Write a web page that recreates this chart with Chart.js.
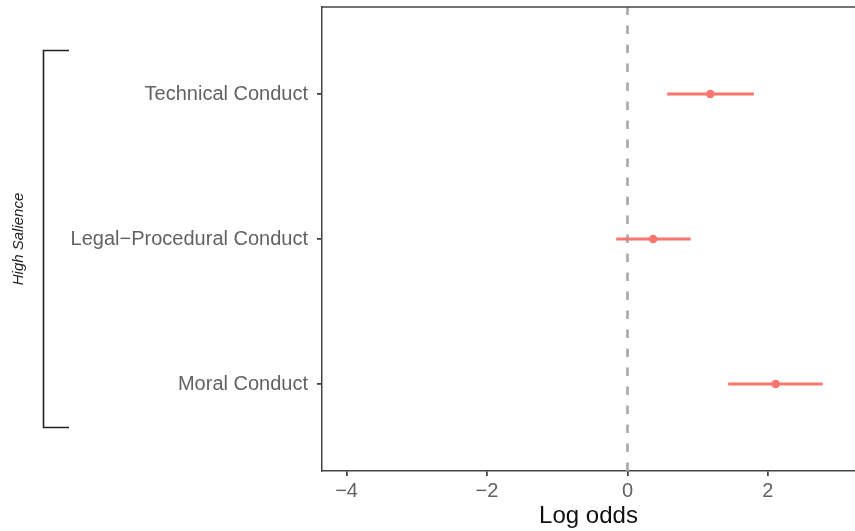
<!DOCTYPE html>
<html>
<head>
<meta charset="utf-8">
<script src="https://cdn.jsdelivr.net/npm/chart.js@4/dist/chart.umd.min.js"></script>
<style>
  html, body { margin: 0; padding: 0; background: #fff; }
  #wrap { width: 855px; height: 531px; position: relative; }
</style>
</head>
<body>
<div id="wrap"><canvas id="chart"></canvas></div>
<script>
// Categories, top to bottom
const categories = ["Technical Conduct", "Legal\u2212Procedural Conduct", "Moral Conduct"];
const estimates = [1.18, 0.365, 2.11];
const lower = [0.565, -0.16, 1.434];
const upper = [1.80, 0.90, 2.78];
const xTicks = [-4, -2, 0, 2];
const groupLabel = "High Salience";

const POINT_COLOR = "#F8766D";
const AXIS_COLOR = "#444444";
const TICK_TEXT = "#626262";
const FONT = "'Liberation Sans', Arial, Helvetica, sans-serif";

// category index -> y position (top category highest)
const yPos = i => categories.length - i;

const datasets = [];

// confidence intervals
categories.forEach((c, i) => {
  datasets.push({
    type: 'line',
    data: [{ x: lower[i], y: yPos(i) }, { x: upper[i], y: yPos(i) }],
    borderColor: POINT_COLOR,
    borderWidth: 2.8,
    pointRadius: 0,
    borderCapStyle: 'butt'
  });
});

// zero reference line
datasets.push({
  type: 'line',
  data: [{ x: 0, y: 0.4 }, { x: 0, y: 3.6 }],
  borderColor: "#A8A8A8",
  borderWidth: 2.6,
  borderDash: [8.5, 10.5],
  borderCapStyle: 'butt',
  pointRadius: 0
});

// point estimates
datasets.push({
  type: 'scatter',
  data: estimates.map((v, i) => ({ x: v, y: yPos(i) })),
  backgroundColor: POINT_COLOR,
  borderColor: POINT_COLOR,
  borderWidth: 0,
  pointRadius: 4.3
});

// bracket + group label, plus top panel border
const decorPlugin = {
  id: 'decor',
  afterDraw(chart) {
    const ctx = chart.ctx;
    const ys = chart.scales.y;
    const area = chart.chartArea;
    ctx.save();
    // top border
    ctx.strokeStyle = AXIS_COLOR;
    ctx.lineWidth = 1.5;
    ctx.beginPath();
    ctx.moveTo(area.left - 0.75, area.top);
    ctx.lineTo(area.right, area.top);
    ctx.stroke();
    // bracket
    const yTop = ys.getPixelForValue(3.3);
    const yBot = ys.getPixelForValue(0.7);
    ctx.strokeStyle = "#222";
    ctx.lineWidth = 1.6;
    ctx.beginPath();
    ctx.moveTo(69, yTop);
    ctx.lineTo(43.5, yTop);
    ctx.lineTo(43.5, yBot);
    ctx.lineTo(69, yBot);
    ctx.stroke();
    // label
    ctx.translate(19, (yTop + yBot) / 2);
    ctx.rotate(-Math.PI / 2);
    ctx.fillStyle = "#222";
    ctx.font = "italic 15px " + FONT;
    ctx.textAlign = 'center';
    ctx.textBaseline = 'middle';
    ctx.fillText(groupLabel, 0, 0);
    ctx.restore();
  }
};

new Chart(document.getElementById("chart"), {
  type: 'scatter',
  data: { datasets },
  options: {
    responsive: true,
    maintainAspectRatio: false,
    animation: false,
    layout: { autoPadding: false, padding: { top: 7, left: 0, right: 0, bottom: 0 } },
    plugins: { legend: { display: false }, tooltip: { enabled: false } },
    scales: {
      x: {
        type: 'linear',
        min: -4.35,
        max: 3.24,
        afterBuildTicks: s => { s.ticks = xTicks.map(v => ({ value: v })); },
        afterFit: s => { s.height = 60; s.paddingLeft = 0; s.paddingRight = 0; },
        grid: { drawOnChartArea: false, drawTicks: true, tickLength: 5, color: AXIS_COLOR, lineWidth: 1.8 },
        border: { display: true, color: AXIS_COLOR, width: 1.5 },
        ticks: {
          color: TICK_TEXT,
          font: { family: FONT, size: 20 },
          padding: 3,
          maxRotation: 0,
          callback: v => (v < 0 ? "\u2212" + Math.abs(v) : String(v))
        },
        title: {
          display: true,
          text: "Log odds",
          color: "#111",
          font: { family: FONT, size: 24 },
          padding: { top: 0, bottom: 0 }
        }
      },
      y: {
        type: 'linear',
        min: 0.4,
        max: 3.6,
        afterBuildTicks: s => { s.ticks = categories.map((c, i) => ({ value: yPos(i) })); },
        afterFit: s => { s.width = 322; s.paddingTop = 0; s.paddingBottom = 0; },
        grid: { drawOnChartArea: false, drawTicks: true, tickLength: 5, color: AXIS_COLOR, lineWidth: 1.8 },
        border: { display: true, color: AXIS_COLOR, width: 1.5 },
        ticks: {
          color: TICK_TEXT,
          font: { family: FONT, size: 20 },
          padding: 9,
          callback: v => categories[categories.length - v]
        }
      }
    }
  },
  plugins: [decorPlugin]
});
</script>
</body>
</html>
